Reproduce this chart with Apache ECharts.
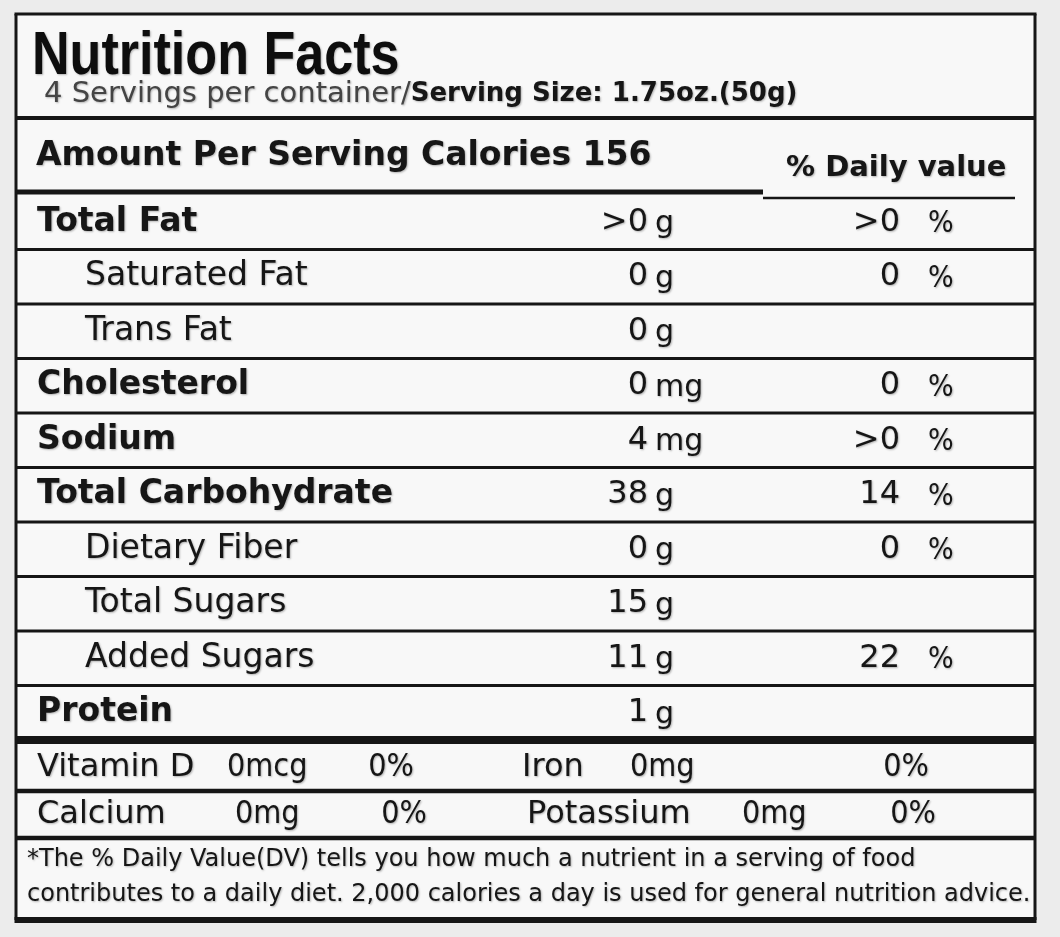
<!DOCTYPE html>
<html>
<head>
<meta charset="utf-8">
<title>Nutrition Facts</title>
<script src="https://cdn.jsdelivr.net/npm/echarts@6/dist/echarts.min.js"></script>
<style>
  html, body { margin: 0; padding: 0; background: #ececec; }
  #chart { width: 1060px; height: 937px; }
</style>
</head>
<body>
<div id="chart"></div>
<script>
// label values
const servingsPerContainer = 4;
const servingSize = '1.75oz.(50g)';
const calories = 156;

const nutrients = ['Total Fat', 'Saturated Fat', 'Trans Fat', 'Cholesterol', 'Sodium',
  'Total Carbohydrate', 'Dietary Fiber', 'Total Sugars', 'Added Sugars', 'Protein'];
const subNutrient = [false, true, true, false, false, false, true, true, true, false];
const amounts = ['>0', '0', '0', '0', '4', '38', '0', '15', '11', '1'];
const units = ['g', 'g', 'g', 'mg', 'mg', 'g', 'g', 'g', 'g', 'g'];
const dailyValues = ['>0', '0', '', '0', '>0', '14', '0', '', '22', ''];

const minerals = ['Vitamin D', 'Iron', 'Calcium', 'Potassium'];
const mineralAmounts = ['0mcg', '0mg', '0mg', '0mg'];
const mineralDaily = ['0%', '0%', '0%', '0%'];
const mineralRows = ['Vitamin D / Iron', 'Calcium / Potassium'];

const footnote = [
  '*The % Daily Value(DV) tells you how much a nutrient in a serving of food',
  'contributes to a daily diet. 2,000 calories a day is used for general nutrition advice.'
];

// look
const INK = '#161616';
const FONT = "'DejaVu Sans', Verdana, sans-serif";
const NARROW = "'Liberation Sans Narrow', 'DejaVu Sans Condensed', 'Liberation Sans', sans-serif";
const SHADOW = { textShadowColor: 'rgba(0,0,0,0.28)', textShadowBlur: 2, textShadowOffsetX: 1, textShadowOffsetY: 1 };

// column offsets from the left edge of the label
const COL = { name: 21, sub: 69, amountRight: 632, unitLeft: 639, dvRight: 884, pctLeft: 912 };
const MINERAL_COL = [
  { name: 21, amount: 211, daily: 375 },
  { name: 506, amount: 614, daily: 890 },
  { name: 21, amount: 219, daily: 388 },
  { name: 511, amount: 726, daily: 897 }
];

function textEl(x, y, text, weight, size, align, family, color) {
  return {
    type: 'text',
    style: Object.assign({
      x: x, y: y, text: text,
      fill: color || INK,
      font: weight + ' ' + size + 'px ' + (family || FONT),
      align: align, textAlign: align,
      verticalAlign: 'middle', textVerticalAlign: 'middle'
    }, SHADOW)
  };
}

function hLine(x1, x2, y, w) {
  return { type: 'line', z: 10, shape: { x1: x1, y1: y, x2: x2, y2: y }, style: { stroke: INK, lineWidth: w } };
}

function renderNutrientRow(params, api) {
  const i = params.dataIndex;
  const cs = params.coordSys;
  const y = api.coord([0, api.value(1)])[1];
  const h = api.size([0, 1])[1];
  const children = [];
  const sub = subNutrient[i];
  children.push(textEl(cs.x + (sub ? COL.sub : COL.name), y, nutrients[i], sub ? 'normal' : 'bold', 33, 'left'));
  children.push(textEl(cs.x + COL.amountRight, y, amounts[i], 'normal', 32, 'right'));
  children.push(textEl(cs.x + COL.unitLeft, y + 2, units[i], 'normal', 30, 'left'));
  if (dailyValues[i] !== '') {
    children.push(textEl(cs.x + COL.dvRight, y, dailyValues[i], 'normal', 32, 'right'));
    children.push(textEl(cs.x + COL.pctLeft, y + 2, '%', 'normal', 30, 'left', NARROW));
  }
  const last = i === nutrients.length - 1;
  children.push(hLine(cs.x, cs.x + cs.width, y + h / 2, last ? 8 : 3));
  return { type: 'group', children: children };
}

function renderMineral(params, api) {
  const i = params.dataIndex;
  const cs = params.coordSys;
  const y = api.coord([0, api.value(1)])[1];
  const h = api.size([0, 1])[1];
  const col = MINERAL_COL[i];
  const children = [
    textEl(cs.x + col.name, y, minerals[i], 'normal', 32, 'left'),
    textEl(cs.x + col.amount, y, mineralAmounts[i], 'normal', 32, 'left', NARROW),
    textEl(cs.x + col.daily, y, mineralDaily[i], 'normal', 32, 'center', NARROW)
  ];
  if (i % 2 === 0) {
    children.push(hLine(cs.x, cs.x + cs.width, y + h / 2, 4.5));
  }
  return { type: 'group', children: children };
}

const chart = echarts.init(document.getElementById('chart'), null, { renderer: 'canvas' });

const L = 16, R = 1035, T = 14, B = 920;

const option = {
  backgroundColor: '#ececec',
  animation: false,
  grid: [
    { left: L, right: 1060 - R, top: 195, height: 545 },
    { left: L, right: 1060 - R, top: 744, height: 94 }
  ],
  xAxis: [
    { gridIndex: 0, type: 'value', min: 0, max: 1, show: false },
    { gridIndex: 1, type: 'value', min: 0, max: 1, show: false }
  ],
  yAxis: [
    { gridIndex: 0, type: 'category', inverse: true, data: nutrients, show: false },
    { gridIndex: 1, type: 'category', inverse: true, data: mineralRows, show: false }
  ],
  graphic: [
    { type: 'rect', z: 0, shape: { x: L, y: T, width: R - L, height: B - T }, style: { fill: '#f8f8f8' } },
    // header
    { type: 'text', z: 5, x: 32, y: 57, scaleX: 0.84,
      style: Object.assign({ x: 0, y: 0, text: 'Nutrition Facts', fill: '#0e0e0e',
        font: "bold 62px 'Liberation Sans', Arial, sans-serif", verticalAlign: 'middle', textVerticalAlign: 'middle' }, SHADOW) },
    { type: 'text', z: 5, style: Object.assign({ x: 44, y: 94,
        text: '{a|' + servingsPerContainer + ' Servings per container/}{b|Serving Size: ' + servingSize + '}',
        verticalAlign: 'middle', textVerticalAlign: 'middle',
        rich: {
          a: { font: 'normal 29px ' + FONT, fill: '#444' },
          b: { font: 'bold 26px ' + FONT, fill: INK }
        } }, SHADOW) },
    { type: 'text', z: 5, style: Object.assign({ x: 36, y: 156, text: 'Amount Per Serving Calories ' + calories,
        fill: INK, font: 'bold 33px ' + FONT, verticalAlign: 'middle', textVerticalAlign: 'middle' }, SHADOW) },
    { type: 'text', z: 5, style: Object.assign({ x: 786, y: 168, text: '% Daily value',
        fill: INK, font: 'bold 29px ' + FONT, verticalAlign: 'middle', textVerticalAlign: 'middle' }, SHADOW) },
    // footnote
    { type: 'text', z: 5, style: Object.assign({ x: 27, y: 860, text: footnote[0],
        fill: INK, font: 'normal 24px ' + FONT, verticalAlign: 'middle', textVerticalAlign: 'middle' }, SHADOW) },
    { type: 'text', z: 5, style: Object.assign({ x: 27, y: 895, text: footnote[1],
        fill: INK, font: 'normal 24px ' + FONT, verticalAlign: 'middle', textVerticalAlign: 'middle' }, SHADOW) },
    // rules and frame
    hLine(L, R, 118, 4),
    hLine(L, 763, 192, 5),
    hLine(763, 1015, 198, 2.5),
    hLine(L - 1.5, R + 1.5, T, 3),
    hLine(L - 1.5, R + 1.5, B, 6),
    { type: 'line', z: 10, shape: { x1: L, y1: T, x2: L, y2: B }, style: { stroke: INK, lineWidth: 3 } },
    { type: 'line', z: 10, shape: { x1: R, y1: T, x2: R, y2: B }, style: { stroke: INK, lineWidth: 3 } }
  ],
  series: [
    {
      type: 'custom',
      name: 'Nutrients',
      xAxisIndex: 0,
      yAxisIndex: 0,
      z: 6,
      renderItem: renderNutrientRow,
      data: nutrients.map(function (n, i) { return [0, i]; })
    },
    {
      type: 'custom',
      name: 'Vitamins and minerals',
      xAxisIndex: 1,
      yAxisIndex: 1,
      z: 6,
      renderItem: renderMineral,
      data: minerals.map(function (m, i) { return [0, Math.floor(i / 2)]; })
    }
  ]
};

chart.setOption(option);
</script>
</body>
</html>
